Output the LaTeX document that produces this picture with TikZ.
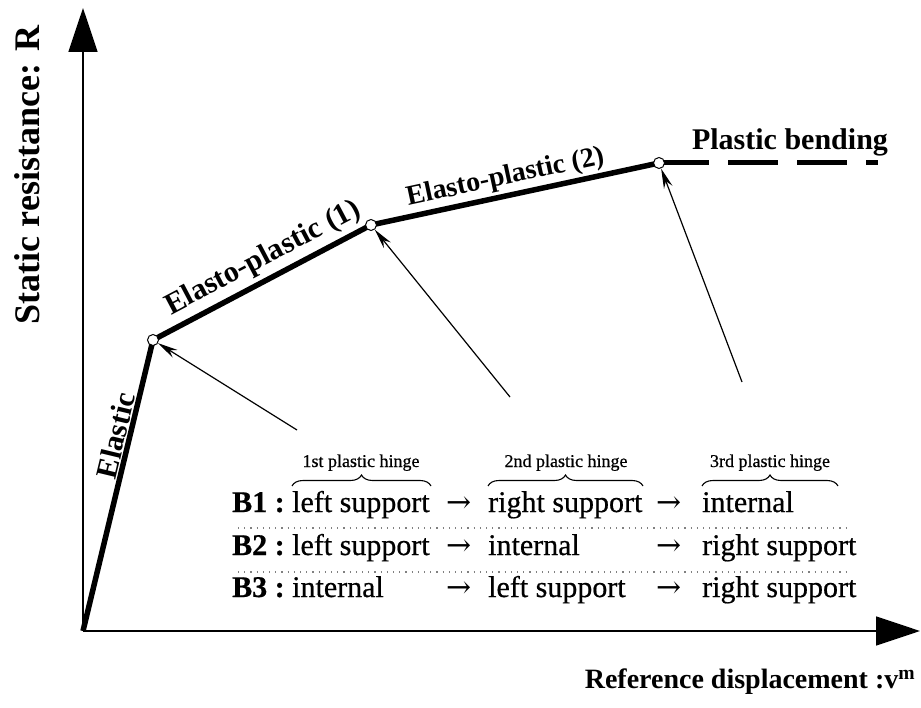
\documentclass[tikz,border=0pt]{standalone}
\usepackage{fontspec}
\setmainfont{Liberation Serif}
\newfontfamily\heavyserif[FakeBold=0.6]{Liberation Serif}
\newfontfamily\arrowfont{DejaVu Serif}
\usetikzlibrary{arrows.meta,decorations.pathreplacing}
\begin{document}
\begin{tikzpicture}[x=1pt,y=-1pt,
  axis/.style={line width=1.6pt,-{Triangle[length=44pt,width=29pt]}},
  curve/.style={line width=5.5pt,line join=round},
  plast/.style={line width=5pt,dash pattern=on 50pt off 19pt},
  hingept/.style={circle,draw,fill=white,line width=1pt,inner sep=0pt,minimum size=11pt},
  pointer/.style={line width=1.2pt,-{Stealth[length=20pt,width=9pt]}},
  lbl/.style={font=\fontsize{30}{36}\selectfont\bfseries},
  cell/.style={font=\fontsize{30}{36}\selectfont\heavyserif,anchor=base west,inner sep=0pt},
  arrowcell/.style={font=\fontsize{30}{34}\selectfont\arrowfont,anchor=base west,inner sep=0pt},
  hingelbl/.style={font=\fontsize{18}{22}\selectfont\heavyserif,anchor=base,inner sep=0pt},
  hbrace/.style={line width=1.1pt,decorate,decoration={brace,amplitude=11pt}},
  dotline/.style={line width=1.2pt,gray,dash pattern=on 1.2pt off 5pt}
]
\useasboundingbox (0,0) rectangle (921,708);
% key points
\coordinate (O) at (83,631);
\coordinate (P1) at (153,340);
\coordinate (P2) at (371,225);
\coordinate (P3) at (659,163);
\coordinate (E) at (878,163);
\coordinate (Ytip) at (83,8);
\coordinate (Xtip) at (920,631);
\coordinate (t1) at (297,430);
\coordinate (t2) at (510,397);
\coordinate (t3) at (742,382);
% axes
\draw[axis] (O) -- (Ytip);
\draw[axis] (O) -- (Xtip);
\node[font=\fontsize{36}{40}\selectfont\bfseries,rotate=90] (ylab) at (27,175) {Static resistance: R};
\node[font=\fontsize{28}{32}\selectfont\bfseries] (xlab) at (750,682) {Reference displacement :v\textsuperscript{m}};
% curve
\draw[curve] (O) -- (P1) -- (P2) -- (P3);
\draw[plast] (P3) -- (E);
\path (O) -- (P1) node[lbl,sloped,above,pos=0.66] (lel) {Elastic};
\path (P1) -- (P2) node[lbl,sloped,above,pos=0.55,inner sep=7pt] (lep1) {Elasto-plastic (1)};
\path (P2) -- (P3) node[lbl,sloped,above,pos=0.48,inner sep=5pt,font=\fontsize{28}{34}\selectfont\bfseries] (lep2) {Elasto-plastic (2)};
\node[lbl,anchor=base] (lpb) at (790,150) {Plastic bending};
\node[hingept] (h1) at (P1) {};
\node[hingept] (h2) at (P2) {};
\node[hingept] (h3) at (P3) {};
\draw[pointer] (t1) -- (h1);
\draw[pointer] (t2) -- (h2);
\draw[pointer] (t3) -- (h3);
% hinge headers
\node[hingelbl] (hl1) at (361,467) {1st plastic hinge};
\node[hingelbl] (hl2) at (566,467) {2nd plastic hinge};
\node[hingelbl] (hl3) at (770,467) {3rd plastic hinge};
\draw[hbrace] (292,486) -- (431,486);
\draw[hbrace] (488,486) -- (643,486);
\draw[hbrace] (702,486) -- (838,486);
% table rows
\node[cell] (b1) at (232,512) {\textbf{B1 :}};
\node[cell] (c11) at (292,512) {left support};
\node[arrowcell] (a11) at (446,512) {→};
\node[cell] (c12) at (488,512) {right support};
\node[arrowcell] (a12) at (656,512) {→};
\node[cell] (c13) at (702,512) {internal};
\node[cell] (b2) at (232,555) {\textbf{B2 :}};
\node[cell] (c21) at (292,555) {left support};
\node[arrowcell] (a21) at (446,555) {→};
\node[cell] (c22) at (488,555) {internal};
\node[arrowcell] (a22) at (656,555) {→};
\node[cell] (c23) at (702,555) {right support};
\node[cell] (b3) at (232,597) {\textbf{B3 :}};
\node[cell] (c31) at (292,597) {internal};
\node[arrowcell] (a31) at (446,597) {→};
\node[cell] (c32) at (488,597) {left support};
\node[arrowcell] (a32) at (656,597) {→};
\node[cell] (c33) at (702,597) {right support};
\draw[dotline] (238,528) -- (850,528);
\draw[dotline] (238,572) -- (850,572);
\end{tikzpicture}
\end{document}
